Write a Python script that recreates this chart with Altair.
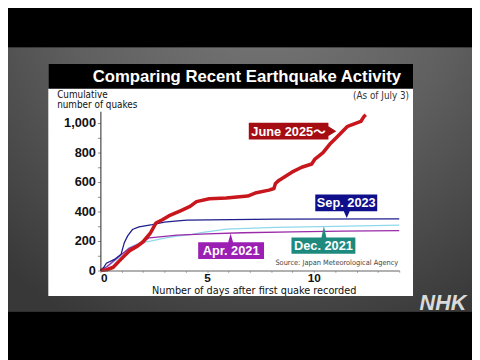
import altair as alt
import pandas as pd

# ---- data ----
june_day = [0, 0.3, 0.6, 0.9, 1.35, 1.75, 2.0, 2.35, 2.6, 2.9, 3.2, 3.5, 3.75, 4.2, 4.5, 5.1, 5.9, 6.9,
            7.25, 7.9, 8.13, 8.2, 8.36, 8.97, 9.43, 9.9, 10.05, 10.43, 10.74, 11.05, 11.43, 11.58, 12.2, 12.35, 12.43]
june_val = [0, 5, 22, 67, 133, 167, 195, 256, 322, 344, 370, 389, 405, 435, 467, 487, 492, 505,
            525, 545, 556, 590, 611, 667, 700, 722, 756, 800, 856, 900, 956, 978, 1011, 1045, 1056]

sep_day = [0, 0.15, 0.28, 0.66, 0.97, 1.12, 1.27, 1.5, 1.81, 2.43, 3.0, 3.5, 4.05, 8.2, 14]
sep_val = [0, 20, 50, 75, 111, 189, 233, 278, 296, 311, 328, 335, 342, 348, 350]

dec_day = [0, 0.4, 0.9, 1.3, 1.8, 2.35, 3.0, 3.6, 4.3, 4.8, 5.5, 5.9, 8.2, 11, 14]
dec_val = [0, 35, 90, 150, 185, 200, 220, 233, 245, 258, 272, 280, 292, 300, 308]

apr_day = [0, 0.3, 0.74, 1.0, 1.35, 1.97, 2.2, 2.3, 3.6, 5.0, 6.67, 9.0, 11.3, 14]
apr_val = [0, 25, 80, 110, 150, 189, 215, 222, 240, 248, 256, 262, 267, 270]

series_names = ["June 2025～", "Sep. 2023", "Dec. 2021", "Apr. 2021"]
line_colors = ["#c8161d", "#1e1e8f", "#8fd8ec", "#9a2aa8"]
box_colors = ["#a50d12", "#0f0f8c", "#1e8a7e", "#9b1fb2"]

# label anchor points (tip of each callout) in data units
label_day = [11.05, 11.54, 10.47, 6.1]
label_value = [945, 356, 300, 251]

x_ticks = list(range(0, 15))
y_ticks = list(range(0, 1001, 100))

title_text = "Comparing Recent Earthquake Activity"
y_title_lines = ["Cumulative", "number of quakes"]
x_title_text = "Number of days after first quake recorded"
asof_text = "(As of July 3)"
source_text = "Source: Japan Meteorological Agency"

# ---- tables ----
def frame(name, d, v):
    return pd.DataFrame({"day": d, "value": v, "series": name})

thin_df = pd.concat([frame(series_names[2], dec_day, dec_val),
                     frame(series_names[3], apr_day, apr_val),
                     frame(series_names[1], sep_day, sep_val)], ignore_index=True)
red_df = frame(series_names[0], june_day, june_val)
one = pd.DataFrame({"a": [0]})

SANS = "Liberation Sans, Arial, Noto Sans CJK JP, sans-serif"
NARROW = "Liberation Sans Narrow, Arial Narrow, DejaVu Sans Condensed, sans-serif"

x_enc = alt.X("day:Q", scale=alt.Scale(domain=[0, 14], nice=False, zero=False),
              axis=alt.Axis(values=x_ticks, title=None, grid=False,
                            labelExpr="datum.value % 5 === 0 ? datum.label : ''",
                            tickSize=2, tickColor="#b0b0b0", domainColor="#606060",
                            labelFont=SANS, labelFontWeight="bold", labelFontSize=12,
                            labelColor="#111", labelPadding=0, zindex=1))
y_enc = alt.Y("value:Q", scale=alt.Scale(domain=[0, 1080], nice=False),
              axis=alt.Axis(values=y_ticks, title=None, grid=False,
                            labelExpr="datum.value % 200 === 0 ? format(datum.value, ',') : ''",
                            tickSize=3, tickColor="#909090", domainColor="#222",
                            labelFont=SANS, labelFontWeight="bold", labelFontSize=13,
                            labelColor="#111", labelPadding=2, zindex=1))

band = alt.Chart(one).mark_rect(color={
    "gradient": "radial", "x1": 0.55, "y1": 0.05, "r1": 0, "x2": 0.55, "y2": 0.05, "r2": 0.85,
    "stops": [{"offset": 0, "color": "#7a7a7a"}, {"offset": 0.5, "color": "#606060"},
              {"offset": 1, "color": "#383838"}]}).encode(
    x=alt.value(-94), x2=alt.value(378), y=alt.value(-65), y2=alt.value(204))
card = alt.Chart(one).mark_rect(color="white").encode(
    x=alt.value(-53), x2=alt.value(318), y=alt.value(-48), y2=alt.value(188))
bar = alt.Chart(one).mark_rect(color="black").encode(
    x=alt.value(-53), x2=alt.value(318), y=alt.value(-48), y2=alt.value(-23))

def txt(s, x, y, **kw):
    return alt.Chart(one).mark_text(text=s, **kw).encode(x=alt.value(x), y=alt.value(y))

texts = [
    txt(title_text, 149, -35, font=SANS, fontSize=17, fontWeight="bold", color="white",
        align="center", baseline="middle"),
    txt(y_title_lines[0], -44, -13.5, font=NARROW, fontSize=10, color="#111",
        align="left", baseline="alphabetic"),
    txt(y_title_lines[1], -44, -3.5, font=NARROW, fontSize=10, color="#111",
        align="left", baseline="alphabetic"),
    txt(asof_text, 314, -12.5, font=NARROW, fontSize=10, color="#333", align="right",
        baseline="alphabetic"),
    txt(x_title_text, 156.5, 186, font=NARROW, fontSize=11, color="#111", align="center",
        baseline="alphabetic"),
    txt(source_text, 303, 154, font=NARROW, fontSize=7.5, color="#444", align="right",
        baseline="middle"),
    txt("NHK", 348.5, 195, font=SANS, fontSize=22, fontWeight="bold", fontStyle="italic",
        color="#dadada", align="center", baseline="middle"),
]

thin = alt.Chart(thin_df).mark_line(strokeWidth=1.3).encode(
    x=x_enc, y=y_enc,
    color=alt.Color("series:N", scale=alt.Scale(domain=series_names[1:], range=line_colors[1:]),
                    legend=None))
red = alt.Chart(red_df).mark_line(strokeWidth=3.6, color=line_colors[0], strokeJoin="round").encode(
    x=x_enc, y=y_enc)

# callout shapes, in pixels relative to the tip (size=4 -> scale 1)
shapes = [
    "M-89,-8.5 L-8,-8.5 L-8,-5 L0,0 L-8,5 L-8,8.5 L-89,8.5 Z",
    "M-32,-24 L31,-24 L31,-7 L3,-7 L0,0 L-3,-7 L-32,-7 Z",
    "M-33,11.5 L-2.5,11.5 L0,0 L2.5,11.5 L32,11.5 L32,28 L-33,28 Z",
    "M-33,9 L-2.5,9 L0,0 L2.5,9 L34,9 L34,26 L-33,26 Z",
]
text_off = [(-48.5, 0.5), (-0.5, -15), (-0.5, 20.5), (0.5, 18)]

callouts = []
for i, name in enumerate(series_names):
    d = pd.DataFrame({"day": [label_day[i]], "value": [label_value[i]], "label": [name]})
    callouts.append(alt.Chart(d).mark_point(shape=shapes[i], size=4, filled=True, opacity=1,
                                            color=box_colors[i], strokeWidth=0).encode(x=x_enc, y=y_enc))
    callouts.append(alt.Chart(d).mark_text(font=SANS, fontSize=13, fontWeight="bold", color="white",
                                           align="center", baseline="middle",
                                           dx=text_off[i][0], dy=text_off[i][1]).encode(
        x=x_enc, y=y_enc, text="label:N"))

chart = alt.layer(band, card, bar, *texts, thin, red, *callouts).properties(
    width=304, height=162,
    autosize=alt.AutoSizeParams(type="none"),
    padding={"left": 94, "top": 102, "right": 74, "bottom": 88},
    background="#000000",
).configure_view(stroke=None)

chart.save("out.html", embed_options={"renderer": "svg", "actions": False})
